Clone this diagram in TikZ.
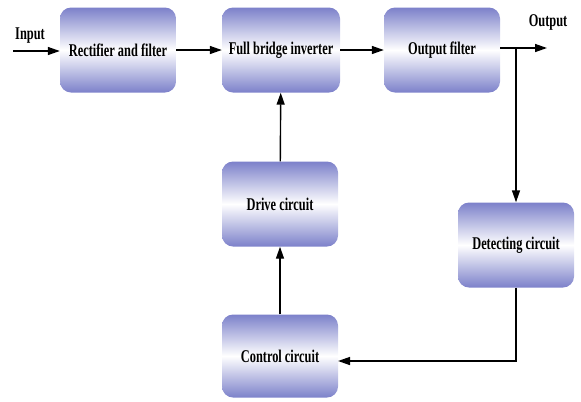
\documentclass[tikz,border=0pt]{standalone}
\usepackage{fontspec}
\setmainfont{Liberation Serif}
\usepackage{tikz}
\usetikzlibrary{arrows.meta}
\definecolor{boxblue}{RGB}{124,129,202}
\newcommand{\narrow}[1]{\scalebox{0.69}[1]{#1}}
\tikzstyle{block_normal} = [rounded corners=11bp, top color=boxblue, bottom color=boxblue, middle color=white, minimum width=116bp, minimum height=85bp, inner sep=0pt, font=\fontsize{18}{20}\selectfont\bfseries]
\tikzstyle{label_normal} = [inner sep=0pt, font=\fontsize{18}{20}\selectfont\bfseries]
\tikzstyle{edge_normal} = [line width=1.4bp, -{Triangle[length=12bp,width=8bp]}]

\begin{document}
\begin{tikzpicture}[x=1bp, y=-1bp]
			\useasboundingbox (0,0) rectangle (581,401);
			\node (R) at (118,50) [block_normal] {\narrow{Rectifier and filter}};
			\node (F) at (281,50) [block_normal, minimum width=118bp] {\narrow{Full bridge inverter}};
			\node (O) at (442,50) [block_normal] {\narrow{Output filter}};
			\node (D) at (280,204) [block_normal] {\narrow{Drive circuit}};
			\node (S) at (516,245) [block_normal] {\narrow{Detecting circuit}};
			\node (C) at (280,356) [block_normal, minimum height=83bp] {\narrow{Control circuit}};
			\node (IN) at (30,36) [label_normal] {\narrow{Input}};
			\node (OUT) at (548,22) [label_normal] {\narrow{Output}};
			\coordinate (I) at (13,51);
			\coordinate (X) at (547,48);
			\coordinate (B) at (516,48);
			\coordinate (K) at (338,361);

			\draw[edge_normal] (I)--(I-|R.west);
			\draw[edge_normal] (R)--(F);
			\draw[edge_normal] (F)--(O);
			\draw[edge_normal] (X-|O.east)--(X);
			\draw[edge_normal] (B)--(S);
			\draw[edge_normal] (S.south) |- (K);
			\draw[edge_normal] (C)--(D);
			\draw[edge_normal] (D)--(F);
		\end{tikzpicture}
\end{document}
